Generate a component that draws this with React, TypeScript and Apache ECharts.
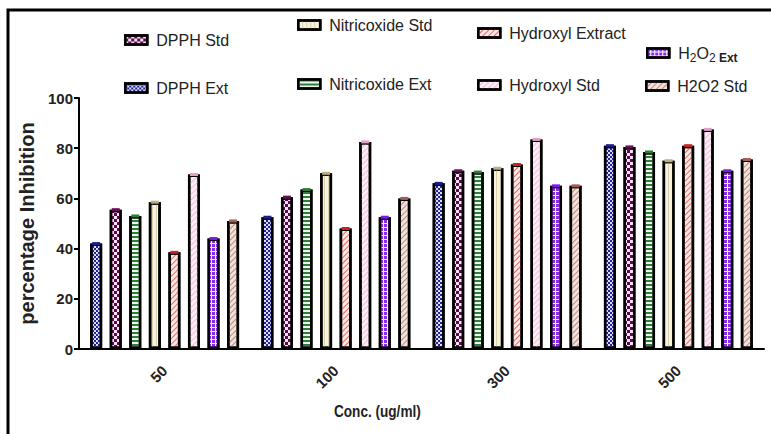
import React, { useEffect, useRef } from "react";
import * as echarts from "echarts";

const categories = ["50", "100", "300", "500"];
const seriesNames = [
  "DPPH Ext",
  "DPPH Std",
  "Nitricoxide Ext",
  "Nitricoxide Std",
  "Hydroxyl Extract",
  "Hydroxyl Std",
  "H2O2 Ext",
  "H2O2 Std",
];
const dpphExt = [42, 52.5, 66, 81];
const dpphStd = [55.5, 60.5, 71, 80.5];
const nitricExt = [53, 63.5, 70.5, 78.5];
const nitricStd = [58.5, 70, 72, 75];
const hydroxylExt = [38.5, 48, 73.5, 81];
const hydroxylStd = [69.5, 82.5, 83.5, 87.5];
const h2o2Ext = [44, 52.5, 65, 71];
const h2o2Std = [51, 60, 65, 75.5];
const allValues = [dpphExt, dpphStd, nitricExt, nitricStd, hydroxylExt, hydroxylStd, h2o2Ext, h2o2Std];
const yTicks = [0, 20, 40, 60, 80, 100];

const ARIAL = "'Liberation Sans', Arial, sans-serif";

const baseColors = ["#dcdcfb", "#fbe3f5", "#eef7ee", "#f7f2de", "#fde8e4", "#fdeef6", "#ffffff", "#f3e2dc"];
const capColors = ["#1c1c8c", "#6a0a5a", "#2e7d32", "#b8b080", "#cc2020", "#e0a0c8", "#7a1ae0", "#a06058"];
const diag = -Math.PI / 4;
const decals: any[] = [
  { symbol: "rect", symbolSize: 1, color: "#23238f", dashArrayX: [[2, 2], [0, 2, 2, 0]], dashArrayY: [2, 0] },
  { symbol: "rect", symbolSize: 1, color: "#5a0b4d", dashArrayX: [[3, 3], [0, 3, 3, 0]], dashArrayY: [3, 0] },
  { symbol: "rect", symbolSize: 1, color: "#2f7d3b", dashArrayX: [1, 0], dashArrayY: [2, 2] },
  { symbol: "rect", symbolSize: 1, color: "#d9d1b0", dashArrayX: [1, 3], dashArrayY: [1, 0] },
  { symbol: "rect", symbolSize: 1, color: "#de6a66", dashArrayX: [1, 0], dashArrayY: [1, 2.5], rotation: diag },
  { symbol: "rect", symbolSize: 1, color: "#f0bcd8", dashArrayX: [1, 0], dashArrayY: [1, 2.5], rotation: diag },
  { symbol: "rect", symbolSize: 1, color: "#8b2be8", dashArrayX: [3, 1], dashArrayY: [3, 1] },
  { symbol: "rect", symbolSize: 1, color: "#b88a80", dashArrayX: [1, 0], dashArrayY: [1, 2.5], rotation: diag },
];

const BAR_W = 12;
const BAR_GAP = 0.63;
const PITCH = BAR_W * (1 + BAR_GAP);

// legend placement: [iconLeft, centerY]
const legendPos: [number, number][] = [
  [124, 90],
  [124, 42],
  [297, 86],
  [297, 27],
  [477, 35],
  [477, 87],
  [646, 55],
  [645, 88],
];

export default function App() {
  const ref = useRef<HTMLDivElement>(null);
  useEffect(() => {
    if (!ref.current) return;
    const chart = echarts.init(ref.current, null, { renderer: "svg" });

    const barSeries = seriesNames.map((name, i) => ({
      name,
      type: "bar",
      data: allValues[i],
      barWidth: BAR_W,
      barGap: BAR_GAP * 100 + "%",
      itemStyle: {
        color: baseColors[i],
        borderColor: "#000",
        borderWidth: 2.5,
        decal: decals[i],
      },
    }));

    const capData: number[][] = [];
    allValues.forEach((arr, s) => arr.forEach((v, c) => capData.push([c, v, s])));

    const capSeries = {
      type: "custom",
      silent: true,
      clip: false,
      z: 5,
      data: capData,
      renderItem: (params: any, api: any) => {
        const c = api.value(0);
        const v = api.value(1);
        const s = api.value(2);
        const pt = api.coord([c, v]);
        const x = pt[0] + (s - 3.5) * PITCH;
        return {
          type: "rect",
          shape: { x: x - 4, y: pt[1] - 1.5, width: 8, height: 3 },
          style: { fill: capColors[s] },
        };
      },
    };

    const legends = seriesNames.map((name, i) => ({
      show: true,
      data: [name],
      left: legendPos[i][0],
      top: legendPos[i][1] - 10,
      padding: 0,
      icon: "rect",
      itemWidth: 22,
      itemHeight: 9,
      selectedMode: false,
      itemStyle: { borderColor: "#000", borderWidth: 2.5 },
      formatter:
        name === "H2O2 Ext" ? "{n|H}{s|2}{n|O}{s|2}{e| Ext}" : "{n|" + name + "}",
      textStyle: {
        padding: [0, 0, 0, 4],
        rich: {
          n: { fontFamily: ARIAL, fontSize: 16, color: "#222" },
          s: { fontFamily: ARIAL, fontSize: 12, color: "#222", padding: [9, 0, 0, 0] },
          e: { fontFamily: ARIAL, fontSize: 12, fontWeight: "bold", color: "#222", padding: [9, 0, 0, 0] },
        },
      },
    }));

    chart.setOption({
      animation: false,
      backgroundColor: "#ffffff",
      grid: { left: 79, right: 7, top: 98, bottom: 85 },
      legend: legends,
      xAxis: {
        type: "category",
        data: categories,
        axisLine: { lineStyle: { color: "#000", width: 2 } },
        axisTick: { alignWithLabel: true, length: 5, lineStyle: { width: 2, color: "#000" } },
        axisLabel: {
          rotate: 45,
          margin: 19,
          fontFamily: ARIAL,
          fontWeight: "bold",
          fontSize: 15,
          color: "#222",
        },
      },
      yAxis: {
        type: "value",
        min: 0,
        max: 100,
        interval: 20,
        name: "percentage Inhibition",
        nameLocation: "middle",
        nameGap: 35,
        nameTextStyle: { fontFamily: ARIAL, fontWeight: "bold", fontSize: 20, color: "#222" },
        axisLine: { show: true, lineStyle: { color: "#000", width: 2 } },
        axisTick: { show: true, length: 5, lineStyle: { width: 2, color: "#000" } },
        splitLine: { show: false },
        axisLabel: {
          fontFamily: ARIAL,
          fontWeight: "bold",
          fontSize: 15,
          color: "#222",
          margin: 6,
          formatter: (v: number) => (yTicks.includes(v) ? String(v) : ""),
        },
      },
      graphic: [
        {
          type: "polyline",
          shape: { points: [[8, 434], [8, 10], [771, 10]] },
          style: { stroke: "#000", lineWidth: 3, fill: "none" },
          silent: true,
        },
        {
          type: "text",
          x: 334,
          y: 402,
          scaleX: 0.8,
          style: {
            text: "Conc. (ug/ml)",
            fontFamily: ARIAL,
            fontWeight: "bold",
            fontSize: 17,
            fill: "#222",
          },
        },
      ],
      series: [...barSeries, capSeries],
    });
    return () => chart.dispose();
  }, []);
  return (
    <div
      ref={ref}
      style={{ position: "fixed", left: 0, top: 0, width: 771, height: 434, background: "#fff" }}
    />
  );
}
